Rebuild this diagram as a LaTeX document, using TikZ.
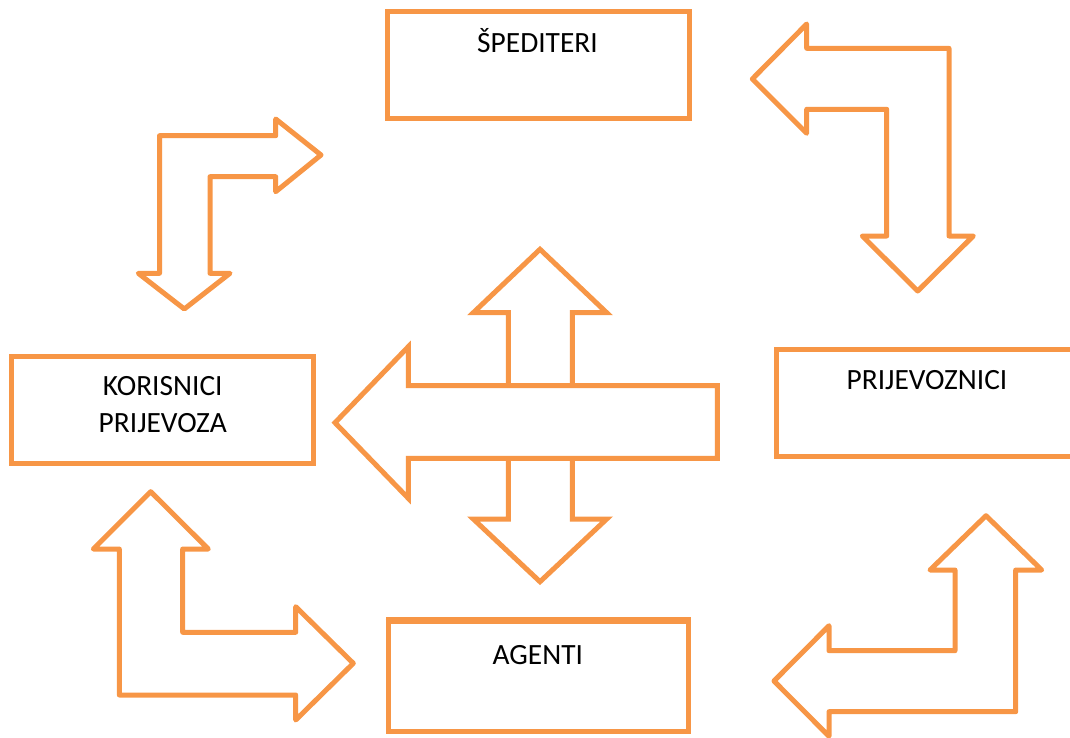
\documentclass[tikz,border=0pt]{standalone}
\usepackage{fontspec}
\setmainfont{Carlito}
\definecolor{acc}{HTML}{F79646}
\begin{document}
\begin{tikzpicture}[x=1bp,y=-1bp,
  box/.style={draw=acc, line width=5bp, minimum width=301.5bp, minimum height=107bp, inner sep=0pt},
  blockarrow/.style={draw=acc, fill=white, line width=5bp, line join=round},
  sharparrow/.style={draw=acc, fill=white, line width=5bp, line join=miter},
  lbl/.style={font=\fontsize{29.5}{35}\selectfont, anchor=base, inner sep=0pt}]
\useasboundingbox (0,0) rectangle (1070,738);
% boxes
\node[box, minimum height=106.5bp] (sped) at (538.25,65.25) {};
\node[box] (kor) at (162.75,409.5) {};
\node[box] (prij) at (927,402.5) {};
\node[box, minimum width=300.5bp, minimum height=111.5bp] (ag) at (538.25,675.25) {};
\draw[acc, line width=5bp] ([yshift=-4.5bp]ag.north west) -- ([yshift=-4.5bp]ag.north east);
% labels
\node[lbl] (spedt) at (537.5,52.3) {ŠPEDITERI};
\node[lbl] (kort1) at (162.75,395) {KORISNICI};
\node[lbl] (kort2) at (162.75,432.3) {PRIJEVOZA};
\node[lbl] (prijt) at (927,389) {PRIJEVOZNICI};
\node[lbl] (agt) at (537.8,664) {AGENTI};
% top-left arrow
\draw[blockarrow] (159.5,273.3) -- (159.5,135.7) -- (275.7,135.7) -- (275.7,119) -- (321,155) -- (275.7,191.7) -- (275.7,176.7) -- (210,176.7) -- (210,273.3) -- (230,273.3) -- (184.3,309) -- (138.3,273.3) -- cycle;
% top-right arrow
\draw[blockarrow] (752.3,79) -- (806.7,24) -- (806.7,48.3) -- (949,48.3) -- (949,236) -- (973.3,236) -- (917.7,291) -- (862.3,236) -- (886.7,236) -- (886.7,109.3) -- (806.7,109.3) -- (806.7,133.3) -- cycle;
% central arrows
\draw[sharparrow] (540,249.3) -- (606.7,312.7) -- (572.3,312.7) -- (572.3,519) -- (606.7,519) -- (540,581.7) -- (473.3,519) -- (508.3,519) -- (508.3,312.7) -- (473.3,312.7) -- cycle;
\draw[sharparrow] (335,422.7) -- (408.3,346.7) -- (408.3,385.7) -- (717.3,385.7) -- (717.3,458.3) -- (408.3,458.3) -- (408.3,498.3) -- cycle;
% bottom-left arrow
\draw[blockarrow] (150.7,491.7) -- (208.3,549) -- (182.7,549) -- (182.7,632.3) -- (295.7,632.3) -- (295.7,606.7) -- (353.3,663.3) -- (295.7,720) -- (295.7,695) -- (119.3,695) -- (119.3,549) -- (93.3,549) -- cycle;
% bottom-right arrow
\draw[blockarrow] (986,515.7) -- (1041.7,570) -- (1015.7,570) -- (1015.7,711.7) -- (829,711.7) -- (829,736.3) -- (774,681) -- (829,625.7) -- (829,650.7) -- (955,650.7) -- (955,570) -- (930,570) -- cycle;
\end{tikzpicture}
\end{document}
